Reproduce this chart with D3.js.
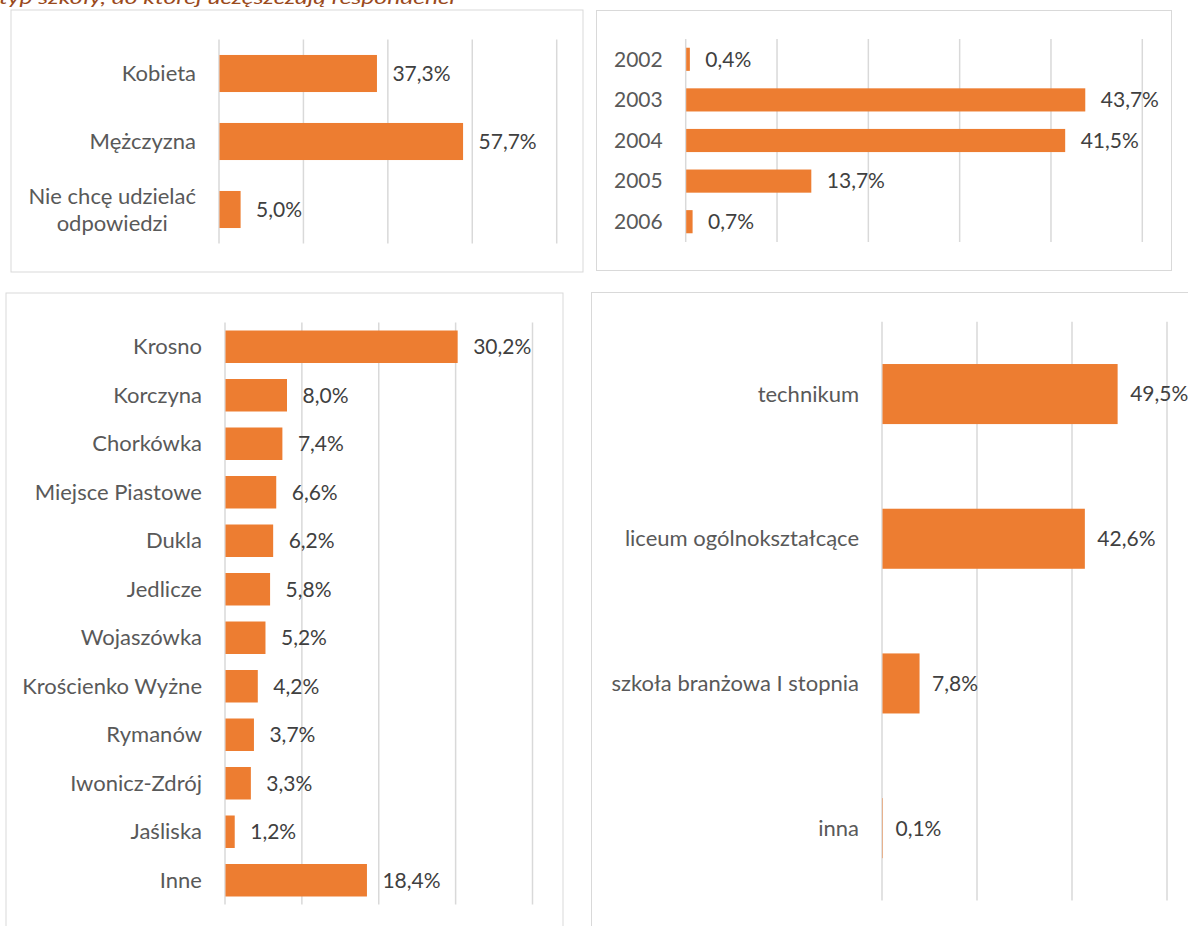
<!DOCTYPE html>
<html>
<head>
<meta charset="utf-8">
<script src="https://cdn.jsdelivr.net/npm/d3@7"></script>
<style>
  body { margin: 0; background: #fff; }
  svg { display: block; font-family: Lato, "Open Sans", sans-serif; }
</style>
</head>
<body>
<div id="chart"></div>
<script>
// chart values (percent)
var genderCats = ["Kobieta", "Mężczyzna", "Nie chcę udzielać\nodpowiedzi"];
var genderVals = [37.3, 57.7, 5.0];
var genderTicks = [0, 20, 40, 60, 80];

var yearCats = ["2002", "2003", "2004", "2005", "2006"];
var yearVals = [0.4, 43.7, 41.5, 13.7, 0.7];
var yearTicks = [0, 10, 20, 30, 40, 50];

var townCats = ["Krosno", "Korczyna", "Chorkówka", "Miejsce Piastowe", "Dukla", "Jedlicze",
    "Wojaszówka", "Krościenko Wyżne", "Rymanów", "Iwonicz-Zdrój", "Jaśliska", "Inne"];
var townVals = [30.2, 8.0, 7.4, 6.6, 6.2, 5.8, 5.2, 4.2, 3.7, 3.3, 1.2, 18.4];
var townTicks = [0, 10, 20, 30, 40];

var schoolCats = ["technikum", "liceum ogólnokształcące", "szkoła branżowa I stopnia", "inna"];
var schoolVals = [49.5, 42.6, 7.8, 0.1];
var schoolTicks = [0, 20, 40, 60];

var titleText = "typ szkoły, do której uczęszczają respondenci";

var width = 1188,
    height = 926;

var pl = d3.formatLocale({decimal: ",", thousands: " ", grouping: [3], currency: ["", " zł"]});
var fmt = pl.format(".1f");

var svg = d3.select("#chart").append("svg")
    .attr("width", width)
    .attr("height", height);

// ******* panels ******* //
drawPanel({
    box: [11, 10, 583, 272],
    cats: genderCats, vals: genderVals, ticks: genderTicks,
    xr: [219, 556.7], yr: [39.5, 243.5], pad: 0.455
});
drawPanel({
    box: [596.5, 10.5, 1171.5, 270.5],
    cats: yearCats, vals: yearVals, ticks: yearTicks,
    xr: [685.7, 1142.3], yr: [39, 242], pad: 0.43, catSize: 21
});
drawPanel({
    box: [6, 293, 563, 940],
    cats: townCats, vals: townVals, ticks: townTicks,
    xr: [225, 532.5], yr: [322.5, 904.5], pad: 0.33
});
drawPanel({
    box: [591.5, 292.5, 1200, 940],
    cats: schoolCats, vals: schoolVals, ticks: schoolTicks,
    xr: [882, 1167], yr: [321.7, 900.5], pad: 0.585, labelGap: 13
});

// cut-off caption at the very top
svg.append("text")
    .attr("x", -1)
    .attr("y", 4)
    .attr("fill", "#9a4a1c")
    .attr("font-style", "italic")
    .attr("font-size", 18)
    .attr("textLength", 456)
    .attr("lengthAdjust", "spacingAndGlyphs")
    .text(titleText);


function drawPanel(p) {
    var g = svg.append("g");
    var b = p.box;
    var catSize = p.catSize || 22;

    g.append("rect")
        .attr("x", b[0]).attr("y", b[1])
        .attr("width", b[2] - b[0]).attr("height", b[3] - b[1])
        .attr("fill", "#fff")
        .attr("stroke", "#d9d9d9")
        .attr("stroke-width", 1);

    var x = d3.scaleLinear()
        .domain([0, p.ticks[p.ticks.length - 1]])
        .range(p.xr);
    var y = d3.scaleBand()
        .domain(p.cats)
        .range(p.yr)
        .paddingInner(p.pad)
        .paddingOuter(p.pad / 2);

    // vertical gridlines
    g.append("g").selectAll("line")
        .data(p.ticks)
        .enter().append("line")
        .attr("x1", function(d) { return x(d); })
        .attr("x2", function(d) { return x(d); })
        .attr("y1", p.yr[0])
        .attr("y2", p.yr[1])
        .attr("stroke", "#d9d9d9")
        .attr("stroke-width", 1.5);

    var data = p.cats.map(function(c, i) { return {cat: c, val: p.vals[i]}; });

    // bars
    g.append("g").selectAll("rect")
        .data(data)
        .enter().append("rect")
        .attr("x", x(0) + 0.5)
        .attr("y", function(d) { return y(d.cat); })
        .attr("width", function(d) { return Math.max(0, x(d.val) - x(0)); })
        .attr("height", y.bandwidth())
        .attr("fill", "#ed7d31");

    // value labels
    var gap = p.labelGap || 16;
    g.append("g").selectAll("text")
        .data(data)
        .enter().append("text")
        .attr("x", function(d) { return x(d.val) + gap; })
        .attr("y", function(d) { return y(d.cat) + y.bandwidth() / 2; })
        .attr("dy", "0.35em")
        .attr("font-size", 21)
        .attr("fill", "#404040")
        .text(function(d) { return fmt(d.val) + "%"; });

    // category labels
    var cl = g.append("g").selectAll("text")
        .data(data)
        .enter().append("text")
        .attr("y", function(d) { return y(d.cat) + y.bandwidth() / 2; })
        .attr("font-size", catSize)
        .attr("fill", "#595959")
        .attr("text-anchor", "end")
        .attr("x", x(0) - 23);

    cl.each(function(d) {
        var lines = d.cat.split("\n");
        var t = d3.select(this);
        if (lines.length == 1) {
            t.attr("dy", "0.35em").text(lines[0]);
            return;
        }
        // two-line label: lines centred on each other
        t.attr("text-anchor", "middle");
        var tmp = t.append("tspan").text(lines[0]);
        var w = tmp.node().getComputedTextLength();
        tmp.remove();
        var cx = x(0) - 23 - w / 2;
        lines.forEach(function(s, i) {
            t.append("tspan")
                .attr("x", cx)
                .attr("y", y(d.cat) + y.bandwidth() / 2 + (i - (lines.length - 1) / 2) * 27)
                .attr("dy", "0.35em")
                .text(s);
        });
    });
}
</script>
</body>
</html>
